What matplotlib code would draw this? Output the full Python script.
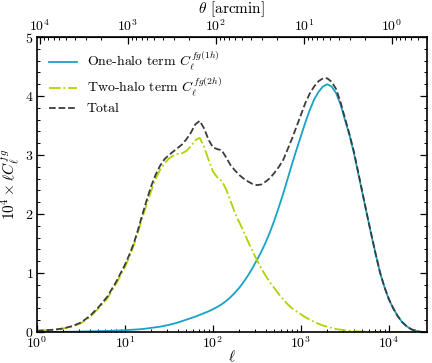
import numpy as np
import matplotlib
matplotlib.use('Agg')
import matplotlib.pyplot as plt
from matplotlib.ticker import MultipleLocator

plt.rcParams['font.family'] = 'serif'
plt.rcParams['font.serif'] = ['cmr10', 'DejaVu Serif']
plt.rcParams['mathtext.fontset'] = 'cm'
plt.rcParams['axes.formatter.use_mathtext'] = True
plt.rcParams['font.size'] = 10

# multipoles (log10 of ell)
log_ell = [0.0, 0.1, 0.2, 0.3, 0.4, 0.5, 0.6, 0.7, 0.8, 0.9,
           1.00, 1.05, 1.10, 1.15, 1.20, 1.25, 1.30, 1.35, 1.40, 1.45,
           1.50, 1.55, 1.60, 1.65, 1.70, 1.75, 1.80, 1.85, 1.90, 1.95,
           2.00, 2.05, 2.10, 2.15, 2.20, 2.25, 2.30, 2.35, 2.40, 2.45,
           2.50, 2.55, 2.60, 2.65, 2.70, 2.75, 2.80, 2.85, 2.90, 2.95,
           3.00, 3.05, 3.10, 3.15, 3.20, 3.25, 3.30, 3.35, 3.40, 3.45,
           3.50, 3.55, 3.60, 3.65, 3.70, 3.75, 3.80, 3.85, 3.90, 3.95,
           4.00, 4.05, 4.10, 4.15, 4.20, 4.25, 4.30, 4.35, 4.40]

# 10^4 x ell C_ell^{fg}
one_halo = [0.0, 0.0, 0.0, 0.003, 0.005, 0.008, 0.011, 0.015, 0.019, 0.024,
            0.03, 0.035, 0.04, 0.045, 0.05, 0.06, 0.07, 0.08, 0.09, 0.105,
            0.12, 0.14, 0.16, 0.185, 0.21, 0.235, 0.26, 0.29, 0.32, 0.35,
            0.385, 0.425, 0.47, 0.525, 0.59, 0.665, 0.75, 0.85, 0.96, 1.085,
            1.22, 1.36, 1.52, 1.70, 1.90, 2.12, 2.35, 2.60, 2.85, 3.09,
            3.32, 3.55, 3.76, 3.94, 4.07, 4.16, 4.20, 4.16, 4.05, 3.86,
            3.60, 3.35, 3.05, 2.70, 2.35, 2.00, 1.65, 1.32, 1.00, 0.76,
            0.55, 0.40, 0.27, 0.17, 0.10, 0.05, 0.02, 0.005, 0.0]

two_halo = [0.02, 0.03, 0.04, 0.06, 0.09, 0.15, 0.25, 0.40, 0.57, 0.82,
            1.10, 1.27, 1.47, 1.70, 1.95, 2.18, 2.40, 2.60, 2.75, 2.86,
            2.94, 2.99, 3.02, 3.03, 3.07, 3.15, 3.25, 3.29, 3.14, 2.92,
            2.72, 2.62, 2.56, 2.42, 2.22, 2.02, 1.86, 1.70, 1.53, 1.37,
            1.22, 1.08, 0.95, 0.84, 0.74, 0.64, 0.55, 0.47, 0.40, 0.35,
            0.30, 0.25, 0.21, 0.17, 0.14, 0.11, 0.09, 0.07, 0.05, 0.04,
            0.03, 0.02, 0.015, 0.01, 0.005, 0.002, 0.0, 0.0, 0.0, 0.0,
            0.0, 0.0, 0.0, 0.0, 0.0, 0.0, 0.0, 0.0, 0.0]

total = [0.02, 0.03, 0.04, 0.06, 0.10, 0.16, 0.27, 0.42, 0.60, 0.85,
         1.14, 1.31, 1.50, 1.74, 2.00, 2.25, 2.48, 2.67, 2.82, 2.93,
         3.00, 3.06, 3.12, 3.18, 3.27, 3.38, 3.52, 3.58, 3.45, 3.26,
         3.13, 3.10, 3.08, 2.96, 2.83, 2.74, 2.66, 2.60, 2.55, 2.51,
         2.49, 2.50, 2.55, 2.61, 2.70, 2.80, 2.92, 3.10, 3.28, 3.48,
         3.68, 3.88, 4.04, 4.16, 4.25, 4.30, 4.30, 4.24, 4.12, 3.90,
         3.63, 3.36, 3.07, 2.72, 2.36, 2.00, 1.66, 1.32, 1.01, 0.76,
         0.56, 0.40, 0.27, 0.17, 0.10, 0.05, 0.02, 0.005, 0.0]

ell = 10 ** np.array(log_ell)

fig = plt.figure(figsize=(4.32, 3.63), dpi=100)
ax = fig.add_axes([0.0856, 0.0854, 0.9024, 0.8126])

ax.plot(ell, one_halo, color='#17a3c8', lw=1.3, label=r'One-halo term $C_\ell^{fg(1h)}$')
ax.plot(ell, two_halo, color='#b4d100', lw=1.3, ls='-.', label=r'Two-halo term $C_\ell^{fg(2h)}$')
ax.plot(ell, total, color='#3c3c3c', lw=1.3, ls='--', label='Total')

ax.set_xscale('log')
ax.set_xlim(1, 2.7e4)
ax.set_ylim(0, 5)
ax.yaxis.set_major_locator(MultipleLocator(1))
ax.yaxis.set_minor_locator(MultipleLocator(0.2))
ax.tick_params(which='both', direction='in', right=True, pad=2.5)
ax.tick_params(which='major', length=5, width=0.9)
ax.tick_params(which='minor', length=2.5, width=0.7)
for s in ax.spines.values():
    s.set_linewidth(1.2)

ax.set_xlabel(r'$\ell$', fontsize=11, labelpad=-2)
ax.set_ylabel(r'$10^4 \times \ell C_\ell^{fg}$', fontsize=11, labelpad=2)

conv = lambda x: 10800.0 / np.maximum(x, 1e-12)
sec = ax.secondary_xaxis('top', functions=(conv, conv))
sec.tick_params(which='both', direction='in', pad=2.5)
sec.tick_params(which='major', length=5, width=0.9)
sec.tick_params(which='minor', length=2.5, width=0.7)
sec.set_xlabel(r'$\theta$ [arcmin]', fontsize=11, labelpad=3)

ax.legend(loc='upper left', frameon=False, handlelength=2.0, handletextpad=0.7,
          borderaxespad=0.5, labelspacing=0.25, fontsize=10)

fig.savefig('out.png', dpi=100)
